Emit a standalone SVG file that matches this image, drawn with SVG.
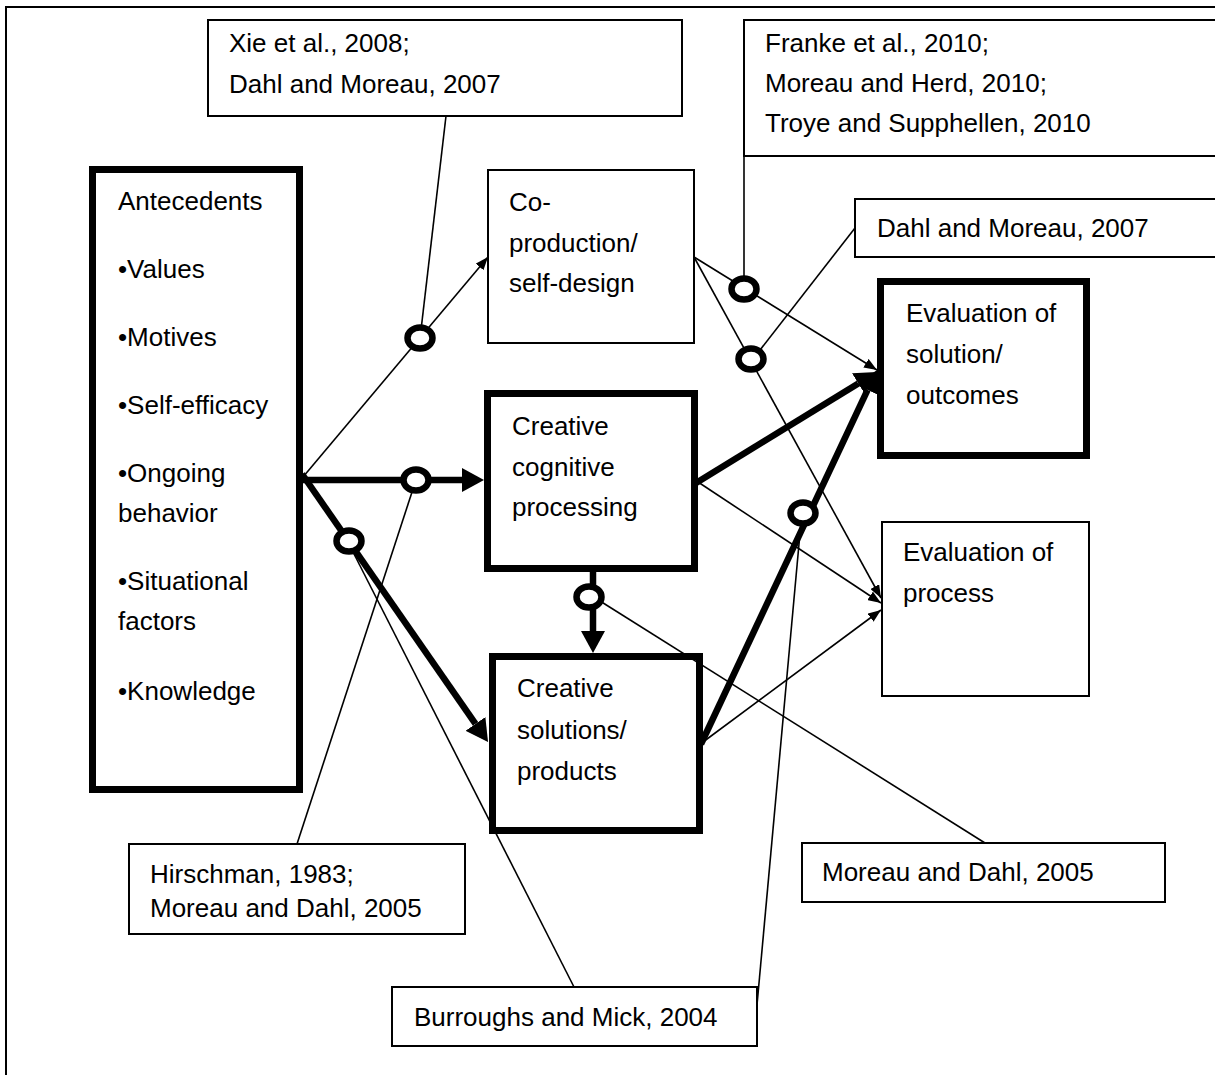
<svg xmlns="http://www.w3.org/2000/svg" width="1215" height="1075" viewBox="0 0 1215 1075">
<defs>
<style>
text{font-family:"Liberation Sans",Arial,sans-serif;font-size:26px;fill:#000}
.box{fill:#fff;stroke:#000;stroke-width:2}
.tbox{fill:#fff;stroke:#000;stroke-width:7}
.thin{stroke:#000;stroke-width:1.6;fill:none}
.thick{stroke:#000;stroke-width:6.5;fill:none}
.ring{fill:#fff;stroke:#000;stroke-width:6.5}
</style>
<marker id="ah" markerUnits="userSpaceOnUse" markerWidth="13" markerHeight="10" refX="13" refY="5" orient="auto"><path d="M0,0 L13,5 L0,10 z" fill="#000"/></marker>
<marker id="AH" markerUnits="userSpaceOnUse" markerWidth="22" markerHeight="24" refX="0" refY="12" orient="auto"><path d="M0,0 L22,12 L0,24 z" fill="#000"/></marker>
</defs>
<rect x="0" y="0" width="1215" height="1075" fill="#fff"/>
<rect id="frame" x="6" y="7" width="1400" height="1300" fill="none" stroke="#000" stroke-width="2"/>

<g id="ref-xie"><rect class="box" x="208" y="20" width="474" height="96"/><text x="229" y="52">Xie et al., 2008;</text><text x="229" y="93">Dahl and Moreau, 2007</text></g>
<g id="ref-franke"><rect class="box" x="744" y="20" width="600" height="136"/><text x="765" y="52">Franke et al., 2010;</text><text x="765" y="92">Moreau and Herd, 2010;</text><text x="765" y="132">Troye and Supphellen, 2010</text></g>
<g id="ref-dahl"><rect class="box" x="855" y="199" width="500" height="58"/><text x="877" y="237">Dahl and Moreau, 2007</text></g>
<g id="antecedents"><rect class="tbox" x="92.5" y="169.5" width="207" height="620"/>
<text x="118" y="210">Antecedents</text><text x="118" y="278">•Values</text><text x="118" y="346">•Motives</text><text x="118" y="414">•Self-efficacy</text><text x="118" y="482">•Ongoing</text><text x="118" y="522">behavior</text><text x="118" y="590">•Situational</text><text x="118" y="630">factors</text><text x="118" y="700">•Knowledge</text></g>
<g id="coproduction"><rect class="box" x="488" y="170" width="206" height="173"/><text x="509" y="211">Co-</text><text x="509" y="252">production/</text><text x="509" y="292">self-design</text></g>
<g id="cognitive"><rect class="tbox" x="487.5" y="393.5" width="207" height="175"/><text x="512" y="435">Creative</text><text x="512" y="476">cognitive</text><text x="512" y="516">processing</text></g>
<g id="eval-solution"><rect class="tbox" x="880.5" y="281.5" width="206" height="174"/><text x="906" y="322">Evaluation of</text><text x="906" y="363">solution/</text><text x="906" y="404">outcomes</text></g>
<g id="eval-process"><rect class="box" x="882" y="522" width="207" height="174"/><text x="903" y="561">Evaluation of</text><text x="903" y="602">process</text></g>
<g id="solutions"><rect class="tbox" x="492.5" y="656.5" width="207" height="174"/><text x="517" y="697">Creative</text><text x="517" y="739">solutions/</text><text x="517" y="780">products</text></g>
<g id="ref-hirschman"><rect class="box" x="129" y="844" width="336" height="90"/><text x="150" y="883">Hirschman, 1983;</text><text x="150" y="917">Moreau and Dahl, 2005</text></g>
<g id="ref-moreau"><rect class="box" x="802" y="843" width="363" height="59"/><text x="822" y="881">Moreau and Dahl, 2005</text></g>
<g id="ref-burroughs"><rect class="box" x="392" y="987" width="365" height="59"/><text x="414" y="1026">Burroughs and Mick, 2004</text></g>

<g id="connectors">
<line class="thin" x1="303" y1="477" x2="488" y2="257" marker-end="url(#ah)"/>
<line class="thick" x1="300" y1="480" x2="462" y2="480" marker-end="url(#AH)"/>
<line class="thick" x1="302" y1="474" x2="475.5" y2="723.9" marker-end="url(#AH)"/>
<line class="thick" x1="696" y1="483" x2="858.3" y2="383.5" marker-end="url(#AH)"/>
<line class="thick" x1="701" y1="744" x2="867.6" y2="389.9" marker-end="url(#AH)"/>
<line class="thick" x1="593" y1="570" x2="593" y2="631" marker-end="url(#AH)"/>
<line class="thin" x1="694" y1="257" x2="877" y2="370" marker-end="url(#ah)"/>
<line class="thin" x1="694" y1="257" x2="881" y2="598" marker-end="url(#ah)"/>
<line class="thin" x1="698" y1="482" x2="881" y2="603" marker-end="url(#ah)"/>
<line class="thin" x1="703" y1="742" x2="881" y2="610" marker-end="url(#ah)"/>
<line class="thin" x1="446" y1="116" x2="421" y2="330"/>
<line class="thin" x1="744" y1="156" x2="744" y2="280"/>
<line class="thin" x1="855" y1="228" x2="760" y2="350"/>
<line class="thin" x1="297" y1="844" x2="413" y2="489"/>
<line class="thin" x1="574" y1="987" x2="352" y2="550"/>
<line class="thin" x1="757" y1="1005" x2="801" y2="522"/>
<line class="thin" x1="600" y1="601" x2="985" y2="843"/>
<ellipse class="ring" cx="420" cy="338" rx="12.5" ry="10.5"/>
<ellipse class="ring" cx="416" cy="480" rx="12.5" ry="10.5"/>
<ellipse class="ring" cx="349" cy="541" rx="12.5" ry="10.5"/>
<ellipse class="ring" cx="744" cy="289" rx="12.5" ry="10.5"/>
<ellipse class="ring" cx="751" cy="359" rx="12.5" ry="10.5"/>
<ellipse class="ring" cx="803" cy="513" rx="12.5" ry="10.5"/>
<ellipse class="ring" cx="589" cy="597" rx="12.5" ry="10.5"/>
</g>
</svg>
